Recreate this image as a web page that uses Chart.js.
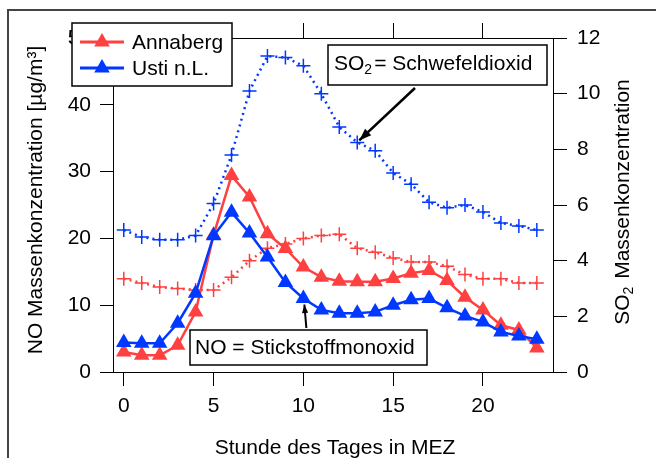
<!DOCTYPE html>
<html>
<head>
<meta charset="utf-8">
<script src="https://cdn.jsdelivr.net/npm/chart.js@4"></script>
<style>
  html, body { margin: 0; padding: 0; background: #fff; }
</style>
</head>
<body>
<canvas id="airChart" width="656" height="458"></canvas>
<script>
// Stunde des Tages (MEZ)
const hours = [0, 1, 2, 3, 4, 5, 6, 7, 8, 9, 10, 11, 12, 13, 14, 15, 16, 17, 18, 19, 20, 21, 22, 23];

// NO Massenkonzentration [µg/m³] (linke Achse)
const noAnnaberg = [3.0, 2.5, 2.5, 4.0, 9.0, 20.5, 29.4, 26.2, 20.7, 18.5, 15.7, 14.2, 13.6, 13.5, 13.5, 14.0, 14.8, 15.2, 13.7, 11.2, 9.3, 7.0, 6.3, 3.6];
const noUsti = [4.4, 4.3, 4.3, 7.3, 11.8, 20.4, 23.9, 20.8, 17.2, 13.4, 11.0, 9.3, 8.8, 8.8, 9.0, 10.0, 10.8, 11.0, 9.6, 8.4, 7.5, 6.0, 5.4, 4.9];

// SO2 Massenkonzentration (rechte Achse)
const so2Annaberg = [3.35, 3.2, 3.05, 3.0, 2.95, 2.95, 3.4, 4.0, 4.45, 4.6, 4.8, 4.9, 4.95, 4.45, 4.3, 4.1, 3.95, 3.95, 3.8, 3.5, 3.35, 3.35, 3.2, 3.2];
const so2Usti = [5.1, 4.85, 4.75, 4.75, 4.9, 6.05, 7.8, 10.1, 11.35, 11.3, 11.0, 10.0, 8.8, 8.25, 7.95, 7.15, 6.75, 6.1, 5.9, 6.0, 5.75, 5.35, 5.25, 5.1];

// tick labels
const xTicks = [0, 5, 10, 15, 20];
const noTicks = [0, 10, 20, 30, 40, 50];
const so2Ticks = [0, 2, 4, 6, 8, 10, 12];

const RED = '#ff4040';
const BLUE = '#0038ff';
const FAMILY = "'Liberation Sans', Arial, sans-serif";
const FONT = '21px ' + FAMILY;
const SUB_FONT = '14px ' + FAMILY;

const pts = (vals) => vals.map((v, i) => ({ x: hours[i], y: v }));
const setTicks = (list) => (scale) => { scale.ticks = list.map(v => ({ value: v })); };

function triangle(ctx, x, y, r, color) {
    ctx.fillStyle = color;
    ctx.beginPath();
    ctx.moveTo(x, y - r);
    ctx.lineTo(x + r * 0.866, y + r * 0.5);
    ctx.lineTo(x - r * 0.866, y + r * 0.5);
    ctx.closePath();
    ctx.fill();
}

function arrow(ctx, x1, y1, x2, y2, head) {
    ctx.beginPath();
    ctx.moveTo(x1, y1);
    ctx.lineTo(x2, y2);
    ctx.stroke();
    const a = Math.atan2(y2 - y1, x2 - x1);
    ctx.beginPath();
    ctx.moveTo(x2, y2);
    ctx.lineTo(x2 - head * Math.cos(a - 0.35), y2 - head * Math.sin(a - 0.35));
    ctx.lineTo(x2 - head * Math.cos(a + 0.35), y2 - head * Math.sin(a + 0.35));
    ctx.closePath();
    ctx.fill();
}

// "SO" + subscript 2 + rest, left aligned at x, middle at y
function so2Width(ctx, rest) {
    ctx.font = FONT;
    let w = ctx.measureText('SO').width;
    ctx.font = SUB_FONT;
    w += ctx.measureText('2').width + 2;
    ctx.font = FONT;
    return w + ctx.measureText(rest).width;
}
function drawSO2(ctx, x, y, rest) {
    ctx.textAlign = 'left';
    ctx.textBaseline = 'middle';
    ctx.font = FONT;
    ctx.fillText('SO', x, y);
    let w = ctx.measureText('SO').width;
    ctx.font = SUB_FONT;
    ctx.fillText('2', x + w, y + 6);
    w += ctx.measureText('2').width + 2;
    ctx.font = FONT;
    ctx.fillText(rest, x + w, y);
}

const decorations = {
    id: 'decorations',
    beforeDraw(chart) {
        const ctx = chart.ctx;
        ctx.save();
        ctx.fillStyle = '#fff';
        ctx.fillRect(0, 0, chart.width, chart.height);
        ctx.strokeStyle = '#444';
        ctx.lineWidth = 2;
        ctx.strokeRect(8, 10, 700, 600);
        ctx.restore();
    },
    afterDraw(chart) {
        const ctx = chart.ctx;
        const { x, y, y1 } = chart.scales;
        ctx.save();
        ctx.fillStyle = '#000';

        // axis titles
        ctx.font = FONT;
        ctx.textAlign = 'center';
        ctx.textBaseline = 'middle';
        ctx.fillText('Stunde des Tages in MEZ', 335, 448);

        ctx.save();
        ctx.translate(36, 200);
        ctx.rotate(-Math.PI / 2);
        ctx.fillText('NO Massenkonzentration [µg/m³]', 0, 0);
        ctx.restore();

        ctx.save();
        ctx.translate(623, 202);
        ctx.rotate(-Math.PI / 2);
        const rw = so2Width(ctx, ' Massenkonzentration');
        drawSO2(ctx, -rw / 2, 0, ' Massenkonzentration');
        ctx.restore();

        // legend
        ctx.fillStyle = '#fff';
        ctx.fillRect(72, 23, 160, 63);
        ctx.strokeStyle = '#000';
        ctx.lineWidth = 1.5;
        ctx.strokeRect(72, 23, 160, 63);
        const entries = [
            { label: 'Annaberg', color: RED, y: 42 },
            { label: 'Usti n.L.', color: BLUE, y: 68 }
        ];
        entries.forEach(e => {
            ctx.strokeStyle = e.color;
            ctx.lineWidth = 3;
            ctx.beginPath();
            ctx.moveTo(80, e.y);
            ctx.lineTo(124, e.y);
            ctx.stroke();
            triangle(ctx, 102, e.y, 9, e.color);
            ctx.fillStyle = '#000';
            ctx.font = FONT;
            ctx.textAlign = 'left';
            ctx.textBaseline = 'middle';
            ctx.fillText(e.label, 132, e.y + 1);
        });

        // annotation boxes
        ctx.strokeStyle = '#000';
        ctx.lineWidth = 1.5;
        ctx.fillStyle = '#fff';
        ctx.fillRect(328, 45, 219, 40);
        ctx.strokeRect(328, 45, 219, 40);
        ctx.fillRect(190, 330, 237, 35);
        ctx.strokeRect(190, 330, 237, 35);
        ctx.fillStyle = '#000';
        drawSO2(ctx, 334, 64, '= Schwefeldioxid');
        ctx.font = FONT;
        ctx.textAlign = 'left';
        ctx.textBaseline = 'middle';
        ctx.fillText('NO = Stickstoffmonoxid', 195, 348);

        // arrows pointing at the data
        ctx.lineWidth = 2.5;
        const sx = x.getPixelForValue(hours[13]);
        const sy = y1.getPixelForValue(so2Usti[13]);
        arrow(ctx, 415, 88, sx + 2, sy - 2, 13);
        const nx = x.getPixelForValue(hours[10]);
        const ny = y.getPixelForValue(noUsti[10]);
        ctx.lineWidth = 2;
        arrow(ctx, nx + 3, 328, nx + 1, ny + 6, 9);
        ctx.restore();
    }
};

const axisFont = { family: FAMILY, size: 21 };
const gridOpts = (len) => ({ drawOnChartArea: false, drawTicks: true, tickLength: len, color: '#000', lineWidth: 1 });

const ctx = document.getElementById('airChart').getContext('2d');
const airChart = new Chart(ctx, {
    type: 'line',
    data: {
        datasets: [
            {
                label: 'Usti n.L.', data: pts(noUsti), yAxisID: 'y', order: 0,
                borderColor: BLUE, backgroundColor: BLUE, borderWidth: 2.5,
                pointStyle: 'triangle', pointRadius: 9, pointBorderWidth: 0, pointBackgroundColor: BLUE
            },
            {
                label: 'Annaberg', data: pts(noAnnaberg), yAxisID: 'y', order: 1,
                borderColor: RED, backgroundColor: RED, borderWidth: 2.5,
                pointStyle: 'triangle', pointRadius: 9, pointBorderWidth: 0, pointBackgroundColor: RED
            },
            {
                label: 'SO2 Annaberg', data: pts(so2Annaberg), yAxisID: 'y1', order: 2,
                borderColor: RED, borderWidth: 2.5, borderDash: [2, 4],
                pointStyle: 'cross', pointRadius: 7, pointBorderWidth: 1.5, pointBorderColor: RED
            },
            {
                label: 'SO2 Usti n.L.', data: pts(so2Usti), yAxisID: 'y1', order: 3,
                borderColor: BLUE, borderWidth: 2.5, borderDash: [2, 4],
                pointStyle: 'cross', pointRadius: 7, pointBorderWidth: 1.5, pointBorderColor: BLUE
            }
        ]
    },
    options: {
        responsive: false,
        animation: false,
        layout: { padding: { top: 38, left: 0, right: 0, bottom: 0 } },
        plugins: { legend: { display: false }, tooltip: { enabled: false } },
        scales: {
            x: {
                type: 'linear', position: 'bottom', min: -0.6, max: 23.9,
                afterBuildTicks: setTicks(xTicks),
                afterFit: (s) => { s.height = 86; },
                grid: gridOpts(14),
                border: { color: '#000', width: 1 },
                ticks: { color: '#000', font: axisFont, padding: 8, maxRotation: 0 }
            },
            x2: {
                type: 'linear', position: 'top', min: -0.6, max: 23.9,
                afterBuildTicks: setTicks(xTicks),
                afterFit: (s) => { s.height = 0; },
                grid: gridOpts(15),
                border: { color: '#000', width: 1 },
                ticks: { display: false }
            },
            y: {
                type: 'linear', position: 'left', min: 0, max: 50,
                afterBuildTicks: setTicks(noTicks),
                afterFit: (s) => { s.width = 113; },
                grid: gridOpts(13),
                border: { color: '#000', width: 1 },
                ticks: { color: '#000', font: axisFont, padding: 9 }
            },
            y1: {
                type: 'linear', position: 'right', min: 0, max: 12,
                afterBuildTicks: setTicks(so2Ticks),
                afterFit: (s) => { s.width = 103; },
                grid: gridOpts(14),
                border: { color: '#000', width: 1 },
                ticks: { color: '#000', font: axisFont, padding: 10 }
            }
        }
    },
    plugins: [decorations]
});
</script>
</body>
</html>
